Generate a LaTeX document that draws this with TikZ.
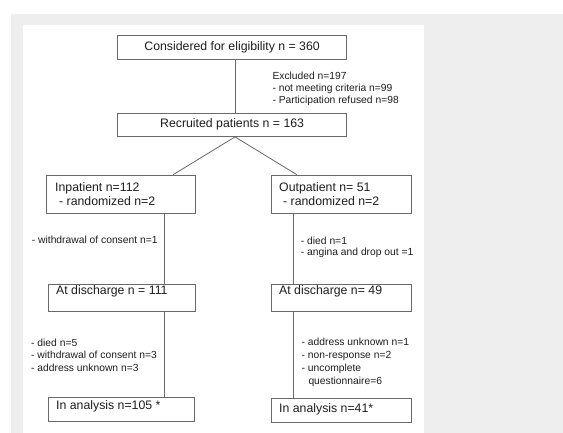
\documentclass[tikz,border=0pt]{standalone}
\usepackage{fontspec}
\setmainfont{Liberation Sans}
\definecolor{bgray}{RGB}{238,238,238}
\definecolor{lc}{RGB}{105,105,105}
\definecolor{tc}{RGB}{30,30,30}
\begin{document}
\begin{tikzpicture}[x=1pt,y=-1pt,
  box/.style={draw=lc, line width=0.8pt, inner sep=0pt, fill=white},
  bigtxt/.style={text=tc, inner sep=0pt, font=\fontsize{12.3}{14}\selectfont},
  smalltxt/.style={text=tc, inner sep=0pt, anchor=base west, font=\fontsize{10.3}{12.5}\selectfont},
  conn/.style={draw=lc, line width=0.8pt}]
\useasboundingbox (0,0) rectangle (563,433);
\fill[white] (0,0) rectangle (563,433);
\fill[bgray] (11,14) rectangle (563,433);
\fill[white] (22.7,25) rectangle (424,433);

% boxes
\node[box, minimum width=229.2pt, minimum height=24pt, bigtxt] (b1) at (232.1,47) {Considered for eligibility n = 360};
\node[box, minimum width=229.2pt, minimum height=23.5pt, bigtxt] (b2) at (232.1,124.75) {Recruited patients n = 163};
\node[box, minimum width=149pt, minimum height=38.3pt] (b3) at (121.2,194.15) {};
\node[box, minimum width=140.2pt, minimum height=38.3pt] (b4) at (341.6,194.15) {};
\node[box, minimum width=147.4pt, minimum height=27pt] (b5) at (122.0,297.5) {};
\node[box, minimum width=140.7pt, minimum height=27.7pt] (b6) at (341.35,297.85) {};
\node[box, minimum width=146pt, minimum height=24.4pt] (b7) at (121.3,409.5) {};
\node[box, minimum width=140.7pt, minimum height=24.4pt] (b8) at (341.35,410.5) {};

% box texts
\node[bigtxt, anchor=base west] (t3a) at (55,192) {Inpatient n=112};
\node[bigtxt, anchor=base west] (t3b) at (59,206) {- randomized n=2};
\node[bigtxt, anchor=base west] (t4a) at (279,192) {Outpatient n= 51};
\node[bigtxt, anchor=base west] (t4b) at (283,206) {- randomized n=2};
\node[bigtxt, anchor=base west] (t5) at (56,294.3) {At discharge n = 111};
\node[bigtxt, anchor=base west] (t6) at (279,294.3) {At discharge n= 49};
\node[bigtxt, anchor=base west] (t7) at (56,409.4) {In analysis n=105 *};
\node[bigtxt, anchor=base west] (t8) at (279,412) {In analysis n=41*};

% side labels
\node[smalltxt] (e1) at (272.3,79.5) {Excluded n=197};
\node[smalltxt] (e2) at (272.3,91.5) {- not meeting criteria n=99};
\node[smalltxt] (e3) at (272.3,103.8) {- Participation refused n=98};

\node[smalltxt] (l1) at (31.7,243.6) {- withdrawal of consent n=1};
\node[smalltxt] (r1) at (300.7,244.2) {- died n=1};
\node[smalltxt] (r2) at (300.7,255.8) {- angina and drop out =1};

\node[smalltxt] (l2) at (31,346) {- died n=5};
\node[smalltxt] (l3) at (31,358.7) {- withdrawal of consent n=3};
\node[smalltxt] (l4) at (31,371.4) {- address unknown n=3};

\node[smalltxt] (r3) at (301.5,345.5) {- address unknown n=1};
\node[smalltxt] (r4) at (301.5,358.5) {- non-response n=2};
\node[smalltxt] (r5) at (301.5,371) {- uncomplete};
\node[smalltxt] (r6) at (308.3,384) {questionnaire=6};

% connectors
\coordinate (vc) at (235,0);
\coordinate (vl) at (164.3,0);
\coordinate (vr) at (293.3,0);
\coordinate (dl) at (173.3,0);
\coordinate (dr) at (296.7,0);
\draw[conn] (b1.south -| vc) -- (b2.north -| vc);
\draw[conn] (b3.north -| dl) -- (b2.south -| vc) -- (b4.north -| dr);
\draw[conn] (b3.south -| vl) -- (b5.north -| vl);
\draw[conn] (b5.south -| vl) -- (b7.north -| vl);
\draw[conn] (b4.south -| vr) -- (b6.north -| vr);
\draw[conn] (b6.south -| vr) -- (b8.north -| vr);
\end{tikzpicture}
\end{document}
